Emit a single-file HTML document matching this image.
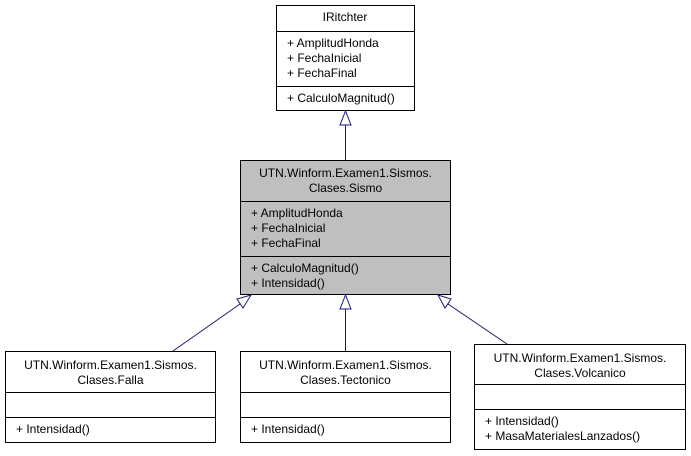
<!DOCTYPE html>
<html><head><style>
body{margin:0;background:#fff}
svg{display:block}
text{font-family:"Liberation Sans",Arial,sans-serif;font-size:12px;fill:#000}
</style></head><body>
<svg width="691" height="456" xmlns="http://www.w3.org/2000/svg">
<g stroke="#000" stroke-width="1" fill="#fff">
<rect x="276.5" y="5.5" width="138" height="105"/>
<line x1="276" y1="31.5" x2="414" y2="31.5"/>
<line x1="276" y1="86.5" x2="414" y2="86.5"/>
<rect x="240.5" y="160.5" width="210" height="134" fill="#bfbfbf"/>
<line x1="240" y1="201.5" x2="451" y2="201.5"/>
<line x1="240" y1="256.5" x2="451" y2="256.5"/>
<rect x="5.5" y="351.5" width="210" height="91"/>
<line x1="5" y1="392.5" x2="216" y2="392.5"/>
<line x1="5" y1="417.5" x2="216" y2="417.5"/>
<rect x="240.5" y="351.5" width="210" height="91"/>
<line x1="240" y1="392.5" x2="451" y2="392.5"/>
<line x1="240" y1="417.5" x2="451" y2="417.5"/>
<rect x="474.5" y="344.5" width="211" height="105"/>
<line x1="474" y1="384.5" x2="686" y2="384.5"/>
<line x1="474" y1="409.5" x2="686" y2="409.5"/>
</g>
<g stroke="#191970" stroke-width="1" fill="#fff">
<line x1="345.5" y1="160" x2="345.5" y2="125"/>
<polygon points="345.5,111 340,125 351,125"/>
<line x1="173" y1="351" x2="240" y2="304"/>
<polygon points="251,295 237,299 243,308"/>
<line x1="345.5" y1="351" x2="345.5" y2="309"/>
<polygon points="345.5,295 340,309 351,309"/>
<line x1="507" y1="344" x2="448" y2="304"/>
<polygon points="438,295 451,299 445,308"/>
</g>
<text x="345" y="21" text-anchor="middle">IRitchter</text>
<text x="287" y="47">+ AmplitudHonda</text>
<text x="287" y="62">+ FechaInicial</text>
<text x="287" y="77">+ FechaFinal</text>
<text x="287" y="102">+ CalculoMagnitud()</text>
<text x="345.5" y="177" text-anchor="middle">UTN.Winform.Examen1.Sismos.</text>
<text x="345.5" y="192" text-anchor="middle">Clases.Sismo</text>
<text x="251" y="217">+ AmplitudHonda</text>
<text x="251" y="232">+ FechaInicial</text>
<text x="251" y="247">+ FechaFinal</text>
<text x="251" y="272">+ CalculoMagnitud()</text>
<text x="251" y="287">+ Intensidad()</text>
<text x="110.5" y="369" text-anchor="middle">UTN.Winform.Examen1.Sismos.</text>
<text x="110.5" y="384" text-anchor="middle">Clases.Falla</text>
<text x="16" y="433">+ Intensidad()</text>
<text x="345.5" y="369" text-anchor="middle">UTN.Winform.Examen1.Sismos.</text>
<text x="345.5" y="384" text-anchor="middle">Clases.Tectonico</text>
<text x="251" y="433">+ Intensidad()</text>
<text x="580" y="362" text-anchor="middle">UTN.Winform.Examen1.Sismos.</text>
<text x="580" y="377" text-anchor="middle">Clases.Volcanico</text>
<text x="485" y="425">+ Intensidad()</text>
<text x="485" y="440">+ MasaMaterialesLanzados()</text>
</svg>
</body></html>
